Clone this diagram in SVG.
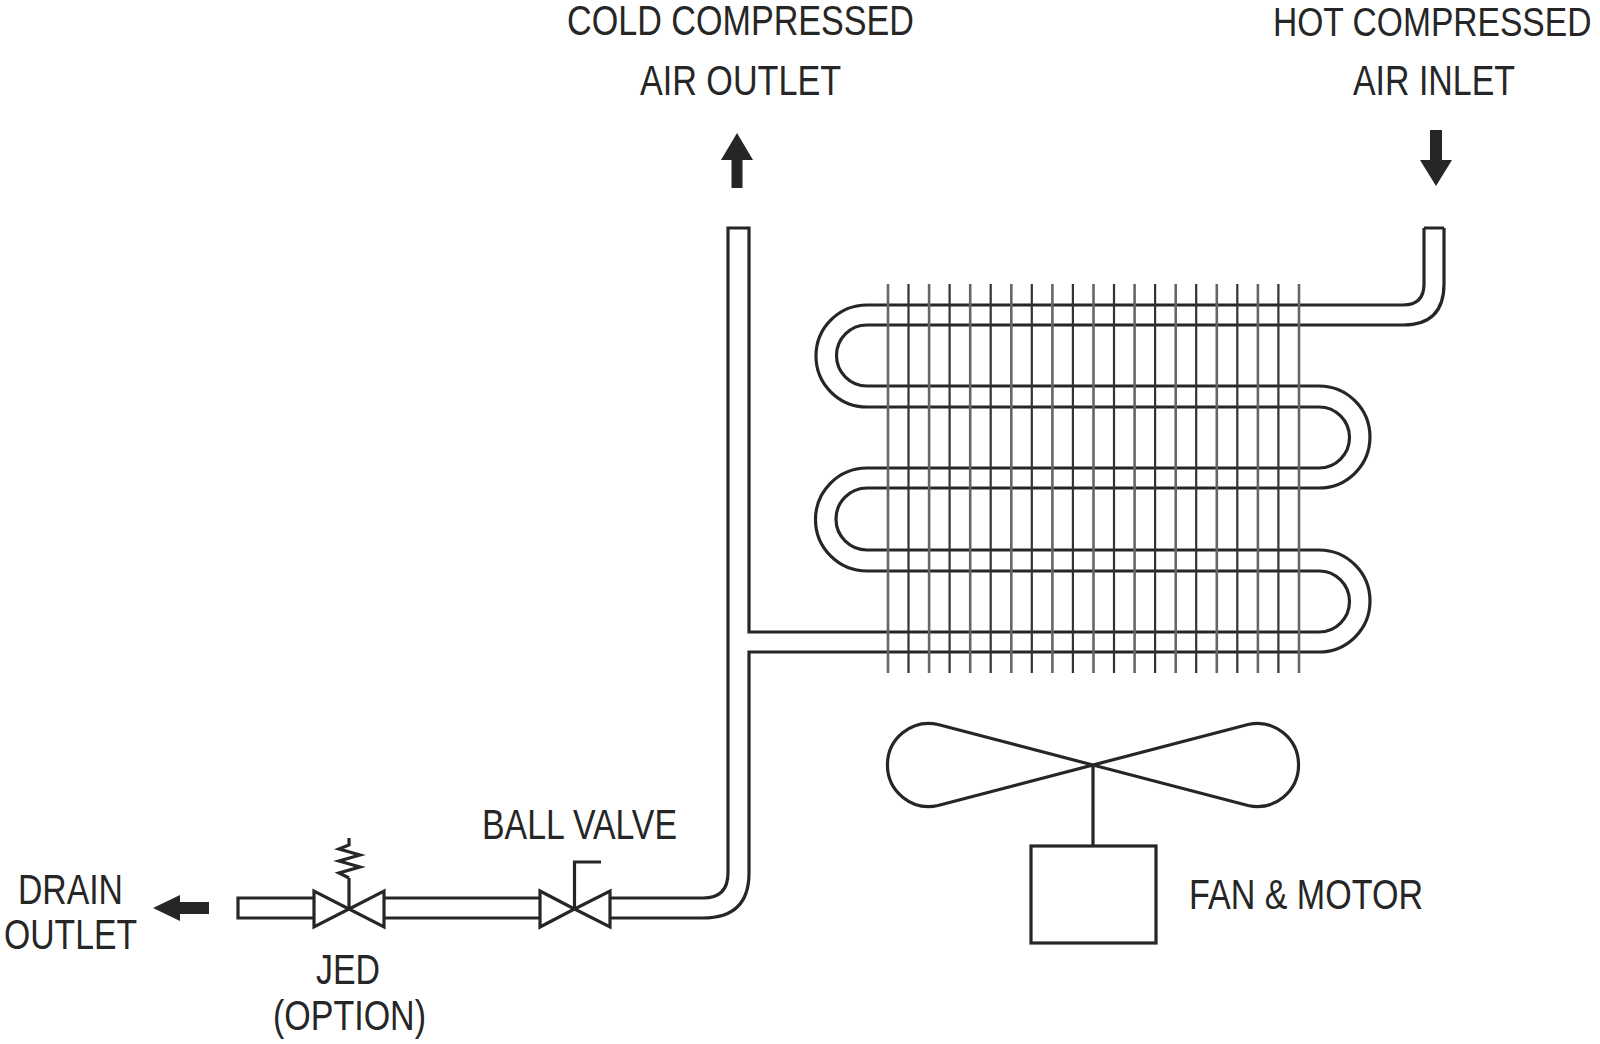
<svg xmlns="http://www.w3.org/2000/svg" width="1600" height="1044" viewBox="0 0 1600 1044">
<style>
text{font-family:"Liberation Sans",Arial,sans-serif;font-size:43px;fill:#262626}
.h{font-size:42px}
.t{fill:none;stroke:#262626;stroke-width:3.2}
.f{fill:none;stroke:#333;stroke-width:2.2}
.g{fill:none;stroke:#666;stroke-width:2.6}
.a{fill:#262626;stroke:none}
.v{fill:#fff;stroke:#262626;stroke-width:3.2;stroke-linejoin:miter}
</style>
<rect width="1600" height="1044" fill="#fff"/>
<g id="connectors">
<path class="t" d="M1424,228H1444M1424,228V284Q1424,305 1403,305H867A51,51 0 0 0 867,407H1319A30.500,30.500 0 0 1 1319,468H867A51.500,51.500 0 0 0 867,571H1319A30.500,30.500 0 0 1 1319,632H749V228H728V873Q728,898 703,898H610"/>
<path class="t" d="M1444,228V284Q1444,325 1403,325H867A30.500,30.500 0 0 0 867,386H1319A51,51 0 0 1 1319,488H867A31,31 0 0 0 867,550H1319A51,51 0 0 1 1319,652H749V873Q749,918 703,918H610"/>
<path class="t" d="M540,898H384M540,918H384M314,898H238V918H314"/>
</g>
<g id="fins">
<path class="g" d="M888,284V673M929.100,284V673M970.200,284V673M1011.300,284V673M1052.400,284V673M1093.500,284V673M1134.600,284V673M1175.700,284V673M1216.800,284V673M1257.900,284V673M1299,284V673"/>
<path class="f" d="M908.500,284V673M949.600,284V673M990.700,284V673M1031.800,284V673M1072.900,284V673M1114,284V673M1155.100,284V673M1196.200,284V673M1237.300,284V673M1278.400,284V673"/>
</g>
<g id="ball-valve">
<path class="t" d="M574.500,909V862H601"/>
<path class="v" d="M540,891V927L574.500,909ZM610,891V927L574.500,909Z"/>
<text x="482" y="839" textLength="195" lengthAdjust="spacingAndGlyphs">BALL VALVE</text>
</g>
<g id="jed-valve">
<path class="t" d="M349,909V878M349,838V845L339,849L360,855L339,861L360,867L339,873L349,878"/>
<path class="v" d="M314,891V927L349,909ZM384,891V927L349,909Z"/>
<text x="316" y="984" textLength="64" lengthAdjust="spacingAndGlyphs">JED</text>
<text x="273" y="1030" textLength="153" lengthAdjust="spacingAndGlyphs">(OPTION)</text>
</g>
<g id="fan-motor">
<path class="t" d="M1093,765L938,724.500A41.500,41.500 0 1 0 938,805.500L1248,724.500A41.500,41.500 0 1 1 1248,805.500L1093,765V846"/>
<rect class="t" x="1031" y="846" width="125" height="97"/>
<text x="1189" y="909" textLength="234" lengthAdjust="spacingAndGlyphs">FAN &amp; MOTOR</text>
</g>
<g id="cold-outlet">
<text class="h" x="567" y="35" textLength="347" lengthAdjust="spacingAndGlyphs">COLD COMPRESSED</text>
<text x="640" y="95" textLength="201" lengthAdjust="spacingAndGlyphs">AIR OUTLET</text>
<path class="a" d="M737,133L753,160H742.500V188H731.500V160H721Z"/>
</g>
<g id="hot-inlet">
<text class="h" style="font-size:41px" transform="translate(1273,36) scale(.819,1)">HOT COMPRESSED</text>
<text x="1353" y="95" textLength="162" lengthAdjust="spacingAndGlyphs">AIR INLET</text>
<path class="a" d="M1436,186L1420,160H1430V130H1442V160H1452Z"/>
</g>
<g id="drain-outlet">
<text x="18" y="904" textLength="105" lengthAdjust="spacingAndGlyphs">DRAIN</text>
<text x="4" y="949" textLength="133" lengthAdjust="spacingAndGlyphs">OUTLET</text>
<path class="a" d="M153,908L180,895V902H209V914H180V921Z"/>
</g>
</svg>
